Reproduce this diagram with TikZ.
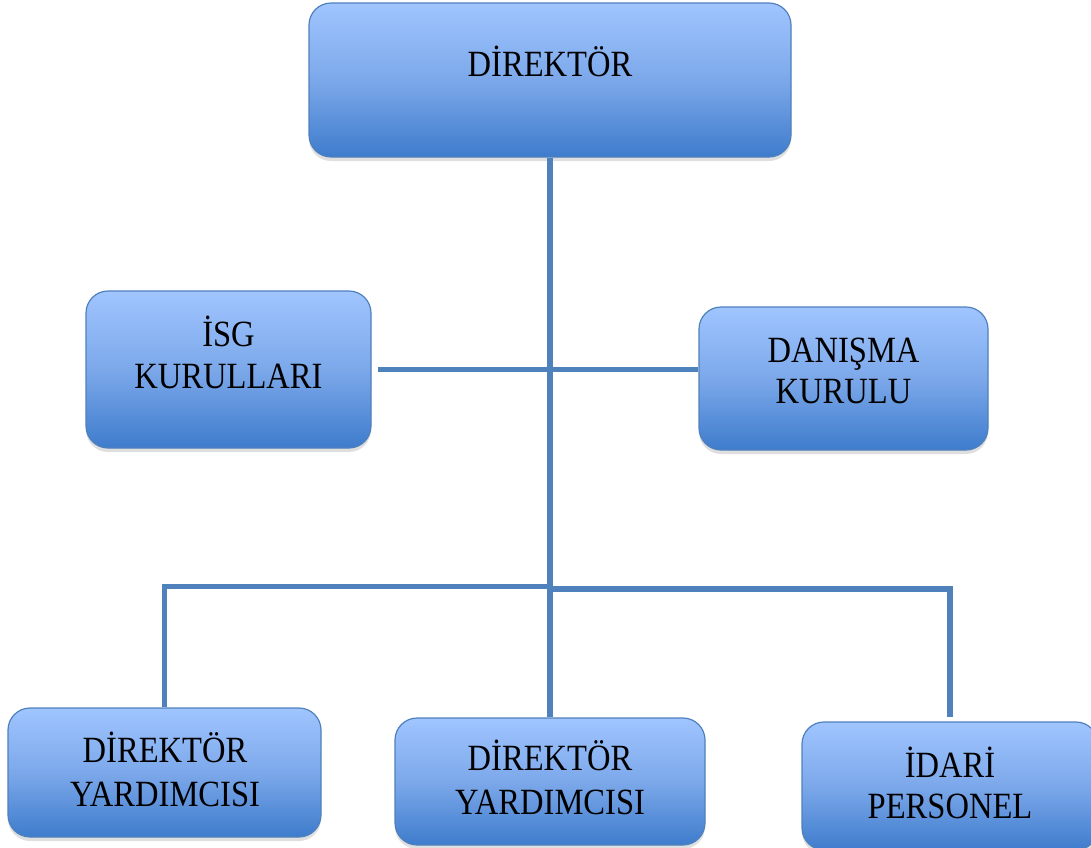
\documentclass[tikz,border=0pt]{standalone}
\usepackage{fontspec}
\setmainfont{Liberation Serif}[FakeStretch=0.88]
\usetikzlibrary{shadows}
\definecolor{lineblue}{RGB}{79,129,189}
\definecolor{boxtop}{RGB}{160,197,255}
\definecolor{boxmid}{RGB}{124,168,234}
\definecolor{boxbot}{RGB}{62,124,204}
\tikzset{
  orgbox/.style={draw=lineblue, line width=1.2pt, rounded corners=22pt,
    top color=boxtop, bottom color=boxbot, middle color=boxmid, inner sep=0pt,
    drop shadow={opacity=0.25, shadow xshift=0pt, shadow yshift=-4pt}},
  lbl/.style={anchor=base, inner sep=0pt, font=\fontsize{37}{44}\selectfont},
  conn/.style={draw=lineblue, line width=5.5pt}
}
\begin{document}
\begin{tikzpicture}[x=1pt,y=-1pt]
\useasboundingbox (0,0) rectangle (1091,847);
\fill[white] (0,0) rectangle (1091,847);
\clip (0,0) rectangle (1091,847);

% boxes
\node[orgbox, minimum width=482pt, minimum height=154pt] (top) at (550,80) {};
\node[orgbox, minimum width=285pt, minimum height=157pt] (isg) at (228.5,369.5) {};
\node[orgbox, minimum width=289pt, minimum height=143pt] (dan) at (843.5,378.5) {};
\node[orgbox, minimum width=313pt, minimum height=129pt] (b1) at (164.5,772.5) {};
\node[orgbox, minimum width=310pt, minimum height=127pt] (b2) at (550,781.5) {};
\node[orgbox, minimum width=296pt, minimum height=128pt] (b3) at (950,786) {};

% junction coordinates
\coordinate (jL) at (164.5,586.5);
\coordinate (jR) at (950,589);

% connectors
\draw[conn] (top.south) -- (b2.north);
\draw[conn] ([xshift=6pt]isg.east) -- (dan.west |- isg.east);
\draw[conn] (top.south |- jL) -- (jL) -- (b1.north);
\draw[conn] (top.south |- jR) -- (jR) -- ([yshift=4pt]b3.north);

% labels
\node[lbl] (topL) at (550,76) {DİREKTÖR};
\node[lbl] (isgA) at (228.5,346) {İSG};
\node[lbl] (isgB) at (228.5,388) {KURULLARI};
\node[lbl] (danA) at (843.5,362) {DANIŞMA};
\node[lbl] (danB) at (843.5,403) {KURULU};
\node[lbl] (b1A) at (165,762) {DİREKTÖR};
\node[lbl] (b1B) at (165,806) {YARDIMCISI};
\node[lbl] (b2A) at (550,770) {DİREKTÖR};
\node[lbl] (b2B) at (550,814) {YARDIMCISI};
\node[lbl] (b3A) at (950,777) {İDARİ};
\node[lbl] (b3B) at (950,818) {PERSONEL};
\end{tikzpicture}
\end{document}
